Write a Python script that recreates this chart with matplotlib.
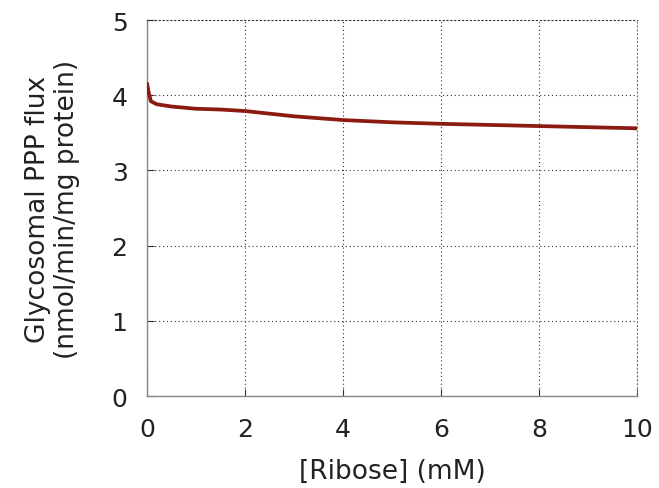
import numpy as np
from matplotlib import pyplot as plt

# ribose concentration (mM) and glycosomal PPP flux
ribose = [0.0, 0.03, 0.08, 0.2, 0.5, 1.0, 1.5, 2.0, 3.0, 4.0, 5.0, 6.0, 7.0, 8.0, 9.0, 10.0]
flux = [4.17, 4.05, 3.92, 3.88, 3.85, 3.82, 3.81, 3.79, 3.72, 3.67, 3.64, 3.62, 3.605, 3.59, 3.575, 3.56]

xticks = [0, 2, 4, 6, 8, 10]
yticks = [0, 1, 2, 3, 4, 5]

fig = plt.figure(figsize=(6.59, 4.89), dpi=100)
ax = fig.add_axes([0.223, 0.188, 0.744, 0.769])

ax.plot(ribose, flux, color="#8b1a10", lw=2.7, solid_capstyle="butt", zorder=3)

ax.set_xlim(0, 10)
ax.set_ylim(0, 5)
ax.set_xticks(xticks)
ax.set_yticks(yticks)
ax.grid(True, linestyle=(0, (1, 2.5)), color="#333333", lw=0.8)
ax.tick_params(direction="in", length=5, color="#333333", labelsize=18,
               labelcolor="#222222")
ax.tick_params(axis="x", pad=15)
ax.tick_params(axis="y", pad=14)
for side in ["left", "bottom"]:
    ax.spines[side].set_color("#888888")
    ax.spines[side].set_linewidth(1.0)
ax.spines["top"].set_linestyle((0, (1, 2.5)))
ax.spines["top"].set_color("#333333")
ax.spines["top"].set_linewidth(0.8)
ax.spines["right"].set_linestyle((0, (1, 2.5)))
ax.spines["right"].set_color("#777777")
ax.spines["right"].set_linewidth(0.8)

ax.set_xlabel("[Ribose] (mM)", fontsize=19, labelpad=12, color="#222222")
ax.set_ylabel("Glycosomal PPP flux\n(nmol/min/mg protein)", fontsize=19, labelpad=23,
              color="#222222", linespacing=1.15)

fig.savefig("out.png", dpi=100)
